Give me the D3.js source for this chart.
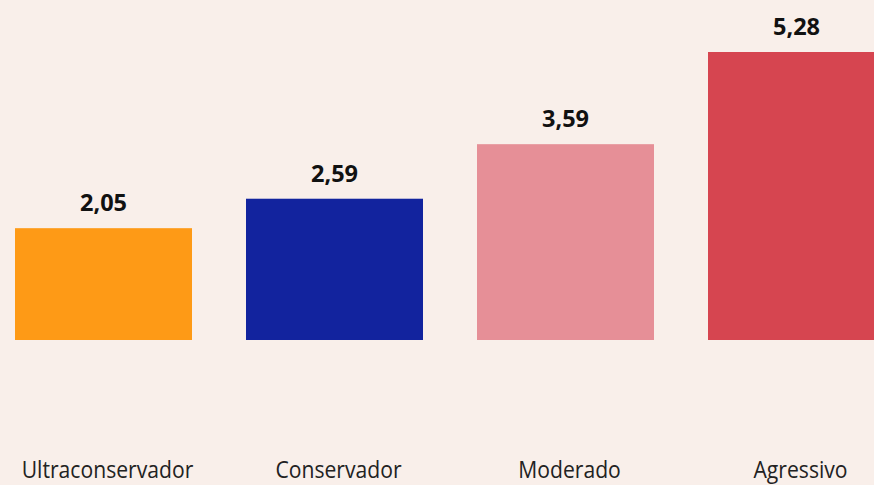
<!DOCTYPE html>
<html>
<head>
<meta charset="utf-8">
<script src="https://cdn.jsdelivr.net/npm/d3@7"></script>
<style>
  html, body { margin: 0; padding: 0; background: #F9EFEA; overflow: hidden; }
  text { font-family: "Open Sans", "DejaVu Sans", sans-serif; }
</style>
</head>
<body>
<div id="chart"></div>
<script>
// Chart data
const categories = ["Ultraconservador", "Conservador", "Moderado", "Agressivo"];
const values = [2.05, 2.59, 3.59, 5.28];
const colors = ["#FE9A16", "#12239E", "#E68F97", "#D64550"];

const width = 874, height = 485;

const svg = d3.select("#chart").append("svg")
    .attr("width", width)
    .attr("height", height);

svg.append("rect")
    .attr("width", width)
    .attr("height", height)
    .attr("fill", "#F9EFEA");

// Scales
const x = d3.scaleBand()
    .domain(categories)
    .range([-12, 912])
    .paddingInner(54 / 231)
    .paddingOuter(27 / 231);

const y = d3.scaleLinear()
    .domain([0, 5.28])
    .range([340, 52]);

const data = categories.map((c, i) => ({ cat: c, value: values[i], color: colors[i] }));

// Bars
svg.selectAll("rect.bar")
    .data(data)
    .enter().append("rect")
    .attr("class", "bar")
    .attr("x", d => x(d.cat))
    .attr("y", d => y(d.value))
    .attr("width", x.bandwidth())
    .attr("height", d => y(0) - y(d.value))
    .attr("fill", d => d.color);

// Value labels
const fmt = v => d3.format(".2f")(v).replace(".", ",");

svg.selectAll("text.value")
    .data(data)
    .enter().append("text")
    .attr("class", "value")
    .attr("transform", d => "translate(" + (x(d.cat) + x.bandwidth() / 2) + "," + (y(d.value) - 17) + ") scale(0.98,1)")
    .attr("text-anchor", "middle")
    .style("font-size", "24px")
    .style("font-weight", "bold")
    .attr("fill", "#111")
    .text(d => fmt(d.value));

// Category labels (slightly condensed, like the original)
svg.selectAll("text.cat")
    .data(data)
    .enter().append("text")
    .attr("class", "cat")
    .attr("transform", d => "translate(" + (x(d.cat) + x.bandwidth() / 2 + 4) + ",478) scale(0.92,1)")
    .attr("text-anchor", "middle")
    .style("font-size", "23px")
    .attr("fill", "#222")
    .text(d => d.cat);
</script>
</body>
</html>
